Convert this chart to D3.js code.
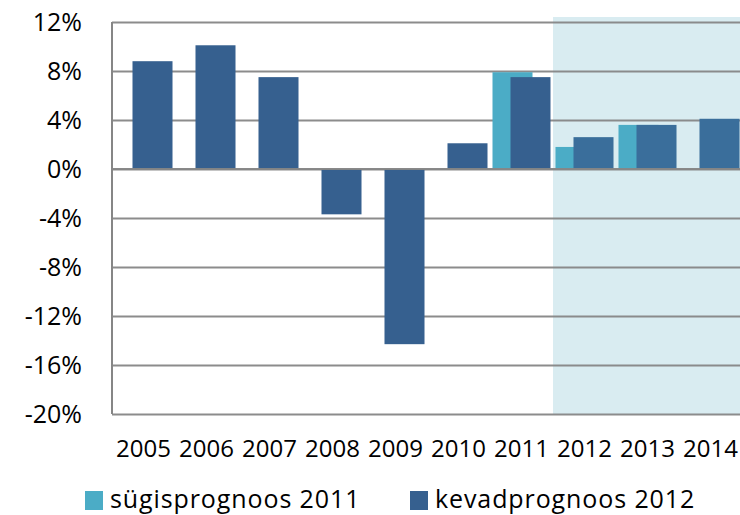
<!DOCTYPE html>
<html>
<head>
<meta charset="utf-8">
<script src="https://cdn.jsdelivr.net/npm/d3@7"></script>
<style>
  body { margin: 0; background: #fff; }
  text { font-family: "Open Sans", "DejaVu Sans", sans-serif; fill: #000; }
</style>
</head>
<body>
<div id="chart"></div>
<script>
const years = ["2005", "2006", "2007", "2008", "2009", "2010", "2011", "2012", "2013", "2014"];
const autumn2011 = [null, null, null, null, null, null, 7.9, 1.8, 3.6, null];
const spring2012 = [8.8, 10.1, 7.5, -3.7, -14.3, 2.1, 7.5, 2.6, 3.6, 4.1];
const seriesNames = ["sügisprognoos 2011", "kevadprognoos 2012"];
const yTicks = [-20, -16, -12, -8, -4, 0, 4, 8, 12];
const forecastYears = ["2012", "2013", "2014"];

const W = 740, H = 515;
const margin = {top: 22, right: -2, bottom: 101, left: 112};

const lightColor = "#4BACC6";
const darkColor = "#36608F";
const darkForecast = "#3A6E9B";
const gridColor = "#868686";

const svg = d3.select("#chart")
              .append("svg")
              .attr("width", W)
              .attr("height", H);

const xScale = d3.scaleBand()
                 .domain(years)
                 .range([margin.left, W - margin.right]);

const yScale = d3.scaleLinear()
                 .domain([-20, 12])
                 .range([H - margin.bottom, margin.top]);

// overlapping bars, light one shifted left
const barWidth = xScale.bandwidth() * 0.635;
const shift = d3.scalePoint().domain(seriesNames).range([-9, 9]);

// forecast shading
svg.append("rect")
   .attr("x", xScale(forecastYears[0]))
   .attr("y", margin.top - 5)
   .attr("width", W - xScale(forecastYears[0]))
   .attr("height", yScale(-20) - margin.top + 5)
   .attr("fill", "#D9ECF1");

// Y axis + grid
svg.append("g")
   .attr("transform", `translate(${margin.left}, 0)`)
   .call(d3.axisLeft(yScale).tickValues(yTicks).tickSize(-(W - margin.left)).tickPadding(30).tickFormat(d => `${d}%`))
   .call(g => {
        g.select(".domain").remove();
        g.selectAll("line").attr("stroke", gridColor).attr("stroke-width", 2).attr("stroke-opacity", 0.95);
        g.selectAll("text").style("font-size", "25px").attr("font-family", null);
   });

// left axis line
svg.append("line")
   .attr("x1", margin.left).attr("x2", margin.left)
   .attr("y1", yScale(12)).attr("y2", yScale(-20))
   .attr("stroke", gridColor).attr("stroke-width", 2);

// X axis labels
svg.append("g")
   .attr("transform", `translate(0, ${yScale(-20)})`)
   .call(d3.axisBottom(xScale).tickSize(0).tickPadding(26))
   .call(g => {
        g.select(".domain").remove();
        g.selectAll("text").style("font-size", "24px").attr("font-family", null);
   });

// bars
svg.append("g")
   .selectAll("rect")
   .data(autumn2011.map((v, i) => [years[i], v]).filter(d => d[1] !== null))
   .join("rect")
   .attr("x", d => xScale(d[0]) + xScale.bandwidth() / 2 + shift(seriesNames[0]) - barWidth / 2)
   .attr("y", d => yScale(Math.max(0, d[1])))
   .attr("width", barWidth)
   .attr("height", d => Math.abs(yScale(d[1]) - yScale(0)))
   .attr("fill", lightColor);

svg.append("g")
   .selectAll("rect")
   .data(spring2012.map((v, i) => [years[i], v]))
   .join("rect")
   .attr("x", d => xScale(d[0]) + xScale.bandwidth() / 2 + shift(seriesNames[1]) - barWidth / 2)
   .attr("y", d => yScale(Math.max(0, d[1])))
   .attr("width", barWidth)
   .attr("height", d => Math.abs(yScale(d[1]) - yScale(0)))
   .attr("fill", d => forecastYears.includes(d[0]) ? darkForecast : darkColor);

// zero line on top
svg.append("line")
   .attr("x1", margin.left).attr("x2", W)
   .attr("y1", yScale(0)).attr("y2", yScale(0))
   .attr("stroke", gridColor).attr("stroke-width", 2).attr("stroke-opacity", 0.95);

// legend
const legend = svg.append("g")
                  .selectAll("g")
                  .data(seriesNames)
                  .join("g")
                  .attr("transform", (d, i) => `translate(${85 + i * 325}, 491)`);

legend.append("rect")
      .attr("width", 18)
      .attr("height", 19)
      .attr("fill", (d, i) => i === 0 ? lightColor : darkColor);

legend.append("text")
      .attr("x", 25)
      .attr("y", 17)
      .style("font-size", "25px")
      .style("letter-spacing", "0.9px")
      .text(d => d);
</script>
</body>
</html>
